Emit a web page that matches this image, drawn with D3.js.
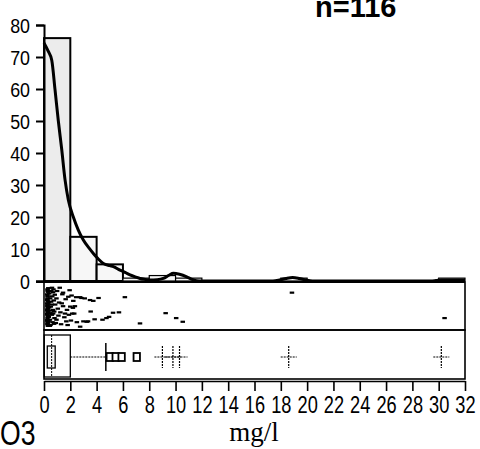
<!DOCTYPE html>
<html><head><meta charset="utf-8">
<script src="https://cdn.jsdelivr.net/npm/d3@7"></script>
<style>body{margin:0;background:#fff}svg{display:block}</style>
</head><body>
<svg id="c" width="480" height="449"></svg>
<script>
// ---- data ----
const binEdges = [0,2,4,6,8,10,12,14,16,18,20,22,24,26,28,30,32];
const binPercent = [75.9,13.8,5.2,0.9,1.7,0.9,0,0,0,0.9,0,0,0,0,0,0.9];
const densityX = [0,0.3,0.59,0.84,1.09,1.35,1.6,1.85,2.23,2.6,2.99,3.4,3.75,4.1,4.51,5.0,5.27,5.78,6.2,6.54,7.0,7.3,7.7,8.06,8.6,9.07,9.5,9.83,10.3,10.85,11.2,11.6,12,17.4,17.9,18.4,18.9,19.4,19.9,20.4,29.4,29.8,30.2,31,32];
const densityY = [74.4,72,69,59.7,50,41,31.6,25.3,20,16,12.8,10.4,8.6,7,5.5,4.8,4.5,3.4,2.6,1.9,1.2,0.8,0.5,0.3,0.4,0.8,1.8,2.4,2.1,1.3,0.6,0.1,0,0,0.3,0.8,1.1,0.8,0.3,0,0,0.15,0.35,0.35,0.3];
const o3Values = [
 0.02,0.05,0,0.03,0.01,0.04,0,0.02,0.05,0.01,0.03,0,0.04,0.02,0,0.05,0.01,0.03,0,0.04,0.02,0.01,0.05,0.03,0,0.02,0.04,0.01,0.03,
 0.08,0.1,0.12,0.15,0.18,0.2,0.22,0.25,0.27,0.3,0.33,0.35,0.38,0.4,0.42,0.45,0.47,0.5,0.52,0.55,0.57,0.14,0.24,0.36,0.09,0.29,0.44,0.19,0.53,
 0.6,0.65,0.7,0.7,0.75,0.8,0.85,0.9,0.95,1.0,1.05,1.1,1.15,1.2,1.2,1.3,1.35,1.4,1.45,1.5,1.55,1.6,1.65,1.7,1.75,1.8,1.85,1.9,1.95,1.98,
 2.05,2.1,2.2,2.25,2.5,2.5,2.6,2.75,2.85,3.0,3.1,3.25,3.5,3.6,3.9,3.3,
 4.2,4.5,4.7,5.0,5.45,5.9,
 7.05,9.0,9.8,10.3,18.6,30.2];
const stripJitter = [
 0.08,0.14,0.20,0.26,0.31,0.37,0.42,0.47,0.52,0.57,0.62,0.68,0.73,0.78,0.83,0.88,0.93,0.11,0.34,0.55,0.70,0.85,0.97,0.44,0.59,0.23,0.65,0.49,0.90,
 0.05,0.40,0.75,0.18,0.60,0.82,0.30,0.95,0.50,0.12,0.45,0.70,0.25,0.88,0.58,0.67,0.08,0.35,0.92,0.78,0.21,0.52,0.66,0.04,0.85,0.38,0.15,0.97,0.62,
 0.45,0.90,0.30,0.82,0.12,0.55,0.72,0.40,0.04,0.64,0.93,0.42,0.20,0.16,0.49,0.76,0.67,0.32,0.86,0.58,0.95,0.26,0.70,0.10,0.50,0.84,0.23,0.67,0.53,0.36,
 0.67,0.49,0.27,0.88,0.99,0.27,0.29,0.86,0.30,0.87,0.86,0.34,0.36,0.81,0.29,0.62,
 0.82,0.78,0.75,0.65,0.64,0.27,
 0.91,0.66,0.78,0.87,0.16,0.78];
const boxQ1 = 0.02, boxMedian = 0.58, boxQ3 = 2.0, notchLo = 0.25, notchHi = 0.85;
const xTicks = d3.range(0,33,2);
const yTicks = [0,10,20,30,40,50,60,70,80];
const titleText = "n=116", varLabel = "O3", unitLabel = "mg/l";

// ---- layout ----
const svg = d3.select("#c");
const L = 44, R = 465, yTop = 25, yZero = 281;
const stripTop = 282, stripBot = 330, boxBot = 379;
const x = d3.scaleLinear().domain([0,32]).range([L,R]);
const y = d3.scaleLinear().domain([0,80]).range([yZero,yTop]);
const sans = "'Liberation Sans',Arial,sans-serif";

// histogram
const bins = binPercent.map((p,i)=>({x0:binEdges[i],x1:binEdges[i+1],p}));
svg.append("g").selectAll("rect").data(bins.filter(b=>b.p>0)).join("rect")
  .attr("x",d=>x(d.x0)).attr("y",d=>y(d.p))
  .attr("width",d=>x(d.x1)-x(d.x0)).attr("height",d=>y(0)-y(d.p))
  .attr("fill",(d,i)=>i===0?"#ececec":"#f7f7f7")
  .attr("stroke","#000").attr("stroke-width",(d,i)=>i<3?2:1.2);

// density
svg.append("path").datum(densityX.map((v,i)=>[v,densityY[i]]))
  .attr("d",d3.line().x(d=>x(d[0])).y(d=>y(d[1])).curve(d3.curveMonotoneX))
  .attr("fill","none").attr("stroke","#000").attr("stroke-width",3);

// y axis
const ySx = 0.85;
const ya = svg.append("g").attr("transform",`translate(${L},0)`)
  .call(d3.axisLeft(y).tickValues(yTicks).tickSize(8).tickPadding(6));
ya.select(".domain").attr("stroke-width",2);
ya.selectAll(".tick line").attr("stroke-width",2);
ya.selectAll("text").attr("font-family",sans).attr("font-size",21).attr("fill","#000")
  .attr("dy","0.36em").attr("x",-14/ySx).attr("transform",`scale(${ySx},1)`);

// baseline
svg.append("line").attr("x1",L-8).attr("x2",R).attr("y1",yZero+1).attr("y2",yZero+1)
  .attr("stroke","#000").attr("stroke-width",2.2);

// strip panel
svg.append("rect").attr("x",L).attr("y",stripTop).attr("width",R-L).attr("height",stripBot-stripTop)
  .attr("fill","none").attr("stroke","#000").attr("stroke-width",1.6);
svg.append("g").selectAll("rect").data(o3Values.map((v,i)=>({v,j:stripJitter[i]}))).join("rect")
  .attr("x",d=>x(d.v)+1).attr("y",d=>stripTop+3+d.j*(stripBot-stripTop-7))
  .attr("width",4.5).attr("height",2.2).attr("fill","#000");

// box plot panel
svg.append("rect").attr("x",L).attr("y",stripBot).attr("width",R-L).attr("height",boxBot-stripBot)
  .attr("fill","none").attr("stroke","#000").attr("stroke-width",1.6);
const iqr = boxQ3-boxQ1;
const innerFence = boxQ3+1.5*iqr, outerFence = boxQ3+3*iqr;
const whiskerHi = d3.max(o3Values.filter(v=>v<=innerFence));
const mild = o3Values.filter(v=>v>innerFence && v<=outerFence);
const extreme = o3Values.filter(v=>v>outerFence);
const bMid = 357, bTop = 335, bBot = 377;
const bp = svg.append("g");
bp.append("rect").attr("x",x(boxQ1)).attr("y",bTop).attr("width",x(boxQ3)-x(boxQ1)).attr("height",bBot-bTop)
  .attr("fill","none").attr("stroke","#000").attr("stroke-width",1.3);
bp.append("rect").attr("x",x(notchLo)).attr("y",bMid-11).attr("width",x(notchHi)-x(notchLo)).attr("height",22)
  .attr("fill","#f4f4f4").attr("stroke","#000").attr("stroke-width",1.3);
bp.append("line").attr("x1",x(boxMedian)).attr("x2",x(boxMedian)).attr("y1",bTop).attr("y2",bBot)
  .attr("stroke","#000").attr("stroke-width",1).attr("stroke-dasharray","2,1");
bp.append("line").attr("x1",x(boxQ3)).attr("x2",x(whiskerHi)).attr("y1",bMid).attr("y2",bMid)
  .attr("stroke","#000").attr("stroke-width",1.2).attr("stroke-dasharray","2,1");
bp.append("line").attr("x1",x(whiskerHi)).attr("x2",x(whiskerHi)).attr("y1",bMid-14).attr("y2",bMid+14)
  .attr("stroke","#000").attr("stroke-width",1.5);
bp.selectAll("rect.m").data(mild).join("rect").attr("class","m")
  .attr("x",d=>x(d)-3.2).attr("y",bMid-4).attr("width",6.4).attr("height",8)
  .attr("fill","#fff").attr("stroke","#000").attr("stroke-width",1.8);
const cr = bp.selectAll("g.x").data(extreme).join("g").attr("class","x");
cr.append("line").attr("x1",d=>x(d)-8).attr("x2",d=>x(d)+8).attr("y1",bMid).attr("y2",bMid)
  .attr("stroke","#000").attr("stroke-width",1).attr("stroke-dasharray","2,1");
cr.append("line").attr("x1",d=>x(d)).attr("x2",d=>x(d)).attr("y1",bMid-11).attr("y2",bMid+11)
  .attr("stroke","#000").attr("stroke-width",1.2).attr("stroke-dasharray","2,1");

// x axis
const xSx = 0.76;
const xa = svg.append("g").attr("transform",`translate(0,${boxBot+2})`)
  .call(d3.axisBottom(x).tickValues(xTicks).tickSize(10).tickPadding(5).tickSizeOuter(0));
xa.select(".domain").attr("stroke-width",1.6);
xa.selectAll(".tick line").attr("stroke-width",1.6);
xa.selectAll("text").attr("font-family",sans).attr("font-size",24).attr("fill","#000")
  .attr("transform",`scale(${xSx},1)`);

// texts
svg.append("text").attr("x",315).attr("y",17).text(titleText)
  .attr("font-family",sans).attr("font-weight","bold").attr("font-size",29);
svg.append("text").attr("transform","translate(0,445) scale(0.76,1)").text(varLabel)
  .attr("font-family",sans).attr("font-size",35);
svg.append("text").attr("x",254).attr("y",441).attr("text-anchor","middle").text(unitLabel)
  .attr("font-family","'Liberation Serif','Times New Roman',serif").attr("font-size",27);
</script>
</body></html>
